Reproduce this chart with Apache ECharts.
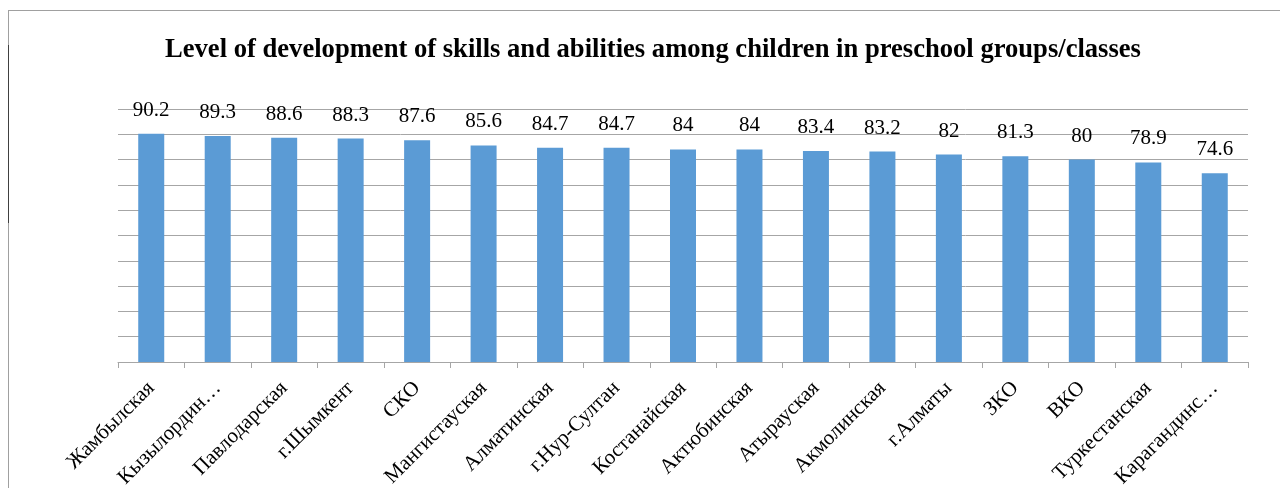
<!DOCTYPE html>
<html>
<head>
<meta charset="utf-8">
<script src="https://cdn.jsdelivr.net/npm/echarts@6/dist/echarts.min.js"></script>
<style>
  html, body { margin: 0; padding: 0; background: #fff; }
  #chart { width: 1280px; height: 488px; }
</style>
</head>
<body>
<div id="chart"></div>
<script>
// регионы (как подписаны на картинке)
const regions = ["Жамбылская", "Кызылордин…", "Павлодарская", "г.Шымкент", "СКО",
  "Мангистауская", "Алматинская", "г.Нур-Султан", "Костанайская", "Актюбинская",
  "Атырауская", "Акмолинская", "г.Алматы", "ЗКО", "ВКО", "Туркестанская", "Карагандинс…"];
// уровень развития, %
const levels = [90.2, 89.3, 88.6, 88.3, 87.6, 85.6, 84.7, 84.7, 84, 84, 83.4, 83.2, 82, 81.3, 80, 78.9, 74.6];

const serif = "Liberation Serif";
const myChart = echarts.init(document.getElementById("chart"));
myChart.setOption({
  animation: false,
  title: {
    text: "Level of development of skills and abilities among children in preschool groups/classes",
    left: 648,
    textAlign: "center",
    top: 32,
    textStyle: { fontFamily: serif, fontSize: 26.6, fontWeight: "bold", color: "#000" }
  },
  graphic: [
    // рамка диаграммы
    { type: "line", shape: { x1: 8, y1: 10.5, x2: 1280, y2: 10.5 }, style: { stroke: "#a0a0a0", lineWidth: 1 } },
    { type: "line", shape: { x1: 8.5, y1: 10, x2: 8.5, y2: 488 }, style: { stroke: "#a0a0a0", lineWidth: 1 } },
    { type: "line", shape: { x1: 8.5, y1: 45, x2: 8.5, y2: 223 }, style: { stroke: "#404040", lineWidth: 1 } }
  ],
  grid: { left: 118, right: 32, top: 109, bottom: 126, outerBoundsMode: "none" },
  xAxis: {
    type: "category",
    data: regions,
    axisLine: { lineStyle: { color: "#a6a6a6" } },
    axisTick: { show: true, length: 6, lineStyle: { color: "#a6a6a6" } },
    axisLabel: {
      interval: 0,
      rotate: 45,
      margin: 23,
      fontFamily: serif,
      fontSize: 21,
      color: "#000"
    }
  },
  yAxis: {
    type: "value",
    min: 0,
    max: 100,
    interval: 10,
    axisLabel: { show: false },
    axisLine: { show: false },
    axisTick: { show: false },
    splitLine: { lineStyle: { color: "#a6a6a6" } }
  },
  series: [
    {
      type: "bar",
      data: levels,
      barWidth: 26,
      itemStyle: { color: "#5b9bd5" },
      label: {
        show: true,
        position: "top",
        distance: 13,
        fontFamily: serif,
        fontSize: 21,
        color: "#000"
      }
    }
  ]
});
</script>
</body>
</html>
